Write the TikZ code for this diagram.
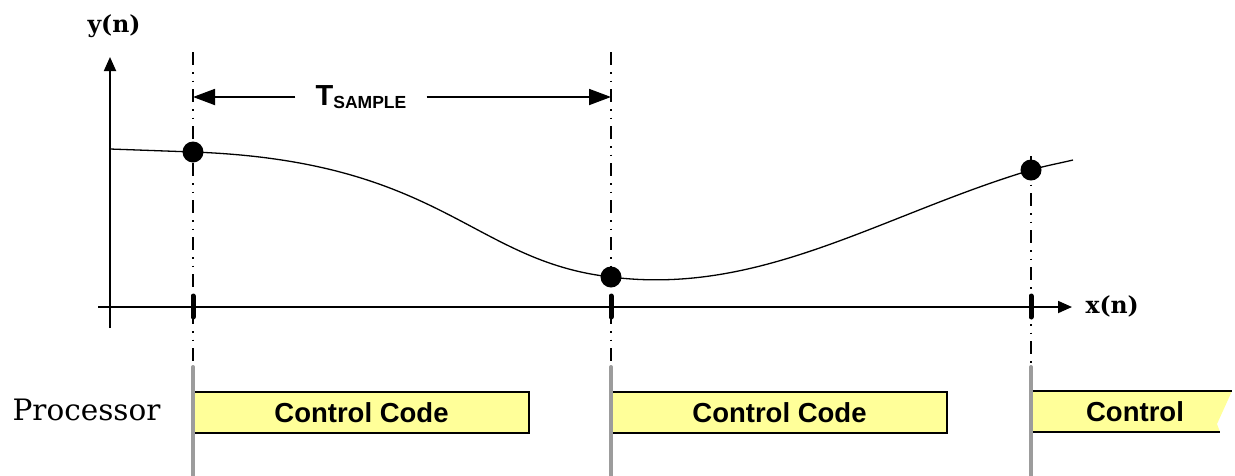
\documentclass[tikz,border=0pt]{standalone}
\usepackage{fontspec}
\usepackage{tikz}
\usetikzlibrary{arrows.meta,positioning}
\newfontfamily\arialfont{Liberation Sans}
\newfontfamily\slabfont{DejaVu Serif}
\definecolor{boxyellow}{HTML}{FFFF99}
\definecolor{bargray}{HTML}{9C9C9C}

\begin{document}
\begin{tikzpicture}[x=1pt, y=-1pt,
  sample/.style = {circle, fill=black, inner sep=0pt, minimum size=21pt},
  dashdot/.style = {line width=1.6pt,
    dash pattern=on 13pt off 7pt on 1.5pt off 7pt on 1.5pt off 7pt},
  axis/.style = {line width=1.8pt, -{Triangle[length=14pt,width=12pt]}},
  tarrow/.style = {line width=1.8pt, -{Triangle[length=22pt,width=16pt]}},
  ctrlbox/.style = {draw, line width=2pt, fill=boxyellow, anchor=north west,
    minimum width=335pt, minimum height=41pt, inner sep=0pt,
    font=\arialfont\bfseries\fontsize{27.5}{30}\selectfont},
  axlabel/.style = {font=\slabfont\bfseries\fontsize{23.5}{26}\selectfont}]
  \useasboundingbox (0,0) rectangle (1235,475);

  % axes
  \coordinate (yb) at (110,328);
  \coordinate (yt) at (110,57);
  \coordinate (xl) at (98,307);
  \coordinate (xr) at (1072,307);
  \draw[axis] (yb) -- (yt);
  \draw[axis] (xl) -- (xr);
  \node[axlabel] (ylab) at (114,26) {y(n)};
  \node[axlabel, anchor=west] (xlab) at (1082,306) {x(n)};

  % sampling instants
  \coordinate (d1) at (193,52);
  \coordinate (d2) at (611,52);
  \coordinate (d3) at (1031,156);
  \coordinate (g1) at (193,367);
  \coordinate (g2) at (611,367);
  \coordinate (g3) at (1031,367);
  \draw[dashdot] (d1) -- (g1);
  \draw[dashdot] (d2) -- (g2);
  \draw[dashdot] (d3) -- (g3);
  \foreach \x in {193,611,1031}
    \draw[line width=5pt, line cap=round] (\x,296) -- (\x,317);

  % signal
  \node[sample] (p1) at (193,152) {};
  \node[sample] (p2) at (611,277) {};
  \node[sample] (p3) at (1031,170) {};
  \coordinate (c0) at (110,149);
  \coordinate (c4) at (1073,160);
  \draw[line width=1.3pt] (c0) -- (p1.center)
    .. controls (443,161) and (471,261) .. (p2.center)
    .. controls (761,296) and (881,215) .. (p3.center)
    .. controls (1045,165.8) and (1059,163.4) .. (c4);

  % sample period
  \node[font=\arialfont\bfseries, inner xsep=20pt] (tsample) at (361,97)
    {\fontsize{29}{30}\selectfont T\raisebox{-2.5pt}{\fontsize{17.5}{18}\selectfont SAMPLE}};
  \draw[tarrow] (tsample.west) -- (tsample.west -| d1);
  \draw[tarrow] (tsample.east) -- (tsample.east -| d2);

  % processor time line
  \node[anchor=east, font=\slabfont\fontsize{29.5}{32}\selectfont] (proc) at (164,410) {Processor};
  \node[ctrlbox] (c1) at (193,391) {Control Code};
  \node[ctrlbox] (c2) at (611,391) {Control Code};
  \fill[boxyellow] (1031,391) -- (1232,391) -- (1217,424) -- (1220,432)
    -- (1031,432) -- cycle;
  \draw[line width=2pt] (1031,391) -- (1232,391);
  \draw[line width=2pt] (1031,432) -- (1220,432);
  \node[font=\arialfont\bfseries\fontsize{27.5}{30}\selectfont] (c3) at (1135,411.5) {Control};
  \draw[bargray, line width=4pt, line cap=round] (g1) -- (193,480);
  \draw[bargray, line width=4pt, line cap=round] (g2) -- (611,480);
  \draw[bargray, line width=4pt, line cap=round] (g3) -- (1031,480);
\end{tikzpicture}
\end{document}
